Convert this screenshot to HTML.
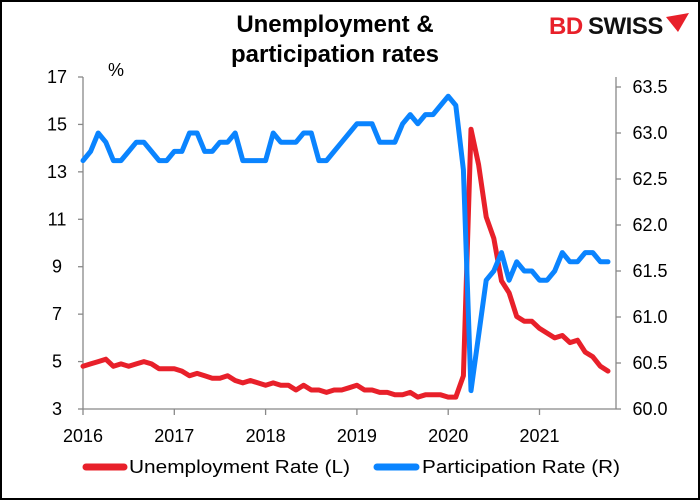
<!DOCTYPE html>
<html><head><meta charset="utf-8"><style>
html,body{margin:0;padding:0;background:#fff}
body{width:700px;height:500px;overflow:hidden}
svg{display:block;font-family:"Liberation Sans",Arial,sans-serif}
</style></head><body>
<svg id="c" width="700" height="500" xmlns="http://www.w3.org/2000/svg">
<rect x="1" y="1" width="698" height="498" fill="#fff" stroke="#000" stroke-width="2"/>
<text x="335" y="32" font-size="24" font-weight="bold" text-anchor="middle">Unemployment &amp;</text>
<text x="335" y="62" font-size="24" font-weight="bold" text-anchor="middle">participation rates</text>
<text x="549" y="34" font-size="24" font-weight="bold" fill="#e8202a" letter-spacing="-0.5">BD</text>
<text x="588" y="34" font-size="24" font-weight="bold" fill="#111" letter-spacing="-0.5">SWISS</text>
<polygon points="666,17 689,13 678,32" fill="#e8202a"/>
<text x="108" y="76" font-size="18">%</text>
<g id="axes" stroke="#888" stroke-width="1.3" fill="none"></g>
<g id="labels" font-size="18" fill="#000"></g>
<g id="lines"></g>
<line x1="86" y1="467" x2="124" y2="467" stroke="#e8202a" stroke-width="7" stroke-linecap="round"/>
<text x="129" y="473" font-size="18" textLength="221" lengthAdjust="spacingAndGlyphs">Unemployment Rate (L)</text>
<line x1="377" y1="467" x2="416" y2="467" stroke="#0a84ff" stroke-width="7" stroke-linecap="round"/>
<text x="422" y="473" font-size="18" textLength="198" lengthAdjust="spacingAndGlyphs">Participation Rate (R)</text>
</svg>
<script>
var NS="http://www.w3.org/2000/svg";
function el(p,t,a,txt){var e=document.createElementNS(NS,t);for(var k in a)e.setAttribute(k,a[k]);if(txt!=null)e.textContent=txt;document.getElementById(p).appendChild(e);return e;}
var L=83,R=616,TOP=77,BOT=409;
var yl=function(v){return BOT-(v-3)*(BOT-77)/14;};
var yr=function(v){return BOT-(v-60)*92;};
var xm=function(i){return L+i*91.3/12;};
el("axes","line",{x1:L,y1:TOP,x2:L,y2:BOT});
el("axes","line",{x1:R,y1:TOP,x2:R,y2:BOT});
el("axes","line",{x1:L,y1:BOT,x2:R,y2:BOT});
for(var v=3;v<=17;v+=2){var y=yl(v);el("axes","line",{x1:L-5,y1:y,x2:L,y2:y});el("labels","text",{x:L-26,y:y+6,"text-anchor":"middle"},String(v));}
for(var v=60;v<=63.51;v+=0.5){var y=yr(v);el("axes","line",{x1:R,y1:y,x2:R+5,y2:y});el("labels","text",{x:R+34,y:y+6,"text-anchor":"middle"},v.toFixed(1));}
for(var k=0;k<6;k++){var x=L+k*91.3;el("axes","line",{x1:x,y1:BOT,x2:x,y2:BOT+6});el("labels","text",{x:x,y:BOT+33,"text-anchor":"middle"},String(2016+k));}
var u=[4.8,4.9,5.0,5.1,4.8,4.9,4.8,4.9,5.0,4.9,4.7,4.7,4.7,4.6,4.4,4.5,4.4,4.3,4.3,4.4,4.2,4.1,4.2,4.1,4.0,4.1,4.0,4.0,3.8,4.0,3.8,3.8,3.7,3.8,3.8,3.9,4.0,3.8,3.8,3.7,3.7,3.6,3.6,3.7,3.5,3.6,3.6,3.6,3.5,3.5,4.4,14.8,13.3,11.1,10.2,8.4,7.9,6.9,6.7,6.7,6.4,6.2,6.0,6.1,5.8,5.9,5.4,5.2,4.8,4.6];
var p=[62.7,62.8,63.0,62.9,62.7,62.7,62.8,62.9,62.9,62.8,62.7,62.7,62.8,62.8,63.0,63.0,62.8,62.8,62.9,62.9,63.0,62.7,62.7,62.7,62.7,63.0,62.9,62.9,62.9,63.0,63.0,62.7,62.7,62.8,62.9,63.0,63.1,63.1,63.1,62.9,62.9,62.9,63.1,63.2,63.1,63.2,63.2,63.3,63.4,63.3,62.6,60.2,60.8,61.4,61.5,61.7,61.4,61.6,61.5,61.5,61.4,61.4,61.5,61.7,61.6,61.6,61.7,61.7,61.6,61.6];
el("lines","polyline",{points:u.map(function(v,i){return xm(i).toFixed(1)+","+yl(v).toFixed(1);}).join(" "),fill:"none",stroke:"#e8202a","stroke-width":5,"stroke-linejoin":"round","stroke-linecap":"round"});
el("lines","polyline",{points:p.map(function(v,i){return xm(i).toFixed(1)+","+yr(v).toFixed(1);}).join(" "),fill:"none",stroke:"#0a84ff","stroke-width":5,"stroke-linejoin":"round","stroke-linecap":"round"});
</script>
</body></html>
